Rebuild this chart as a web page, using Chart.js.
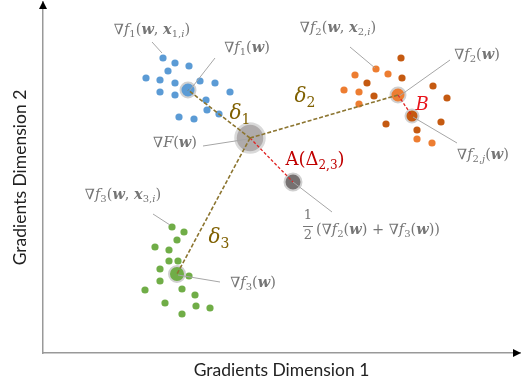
<!DOCTYPE html>
<html><head><meta charset="utf-8">
<script src="https://cdn.jsdelivr.net/npm/chart.js@4.4.1/dist/chart.umd.min.js"></script>
<style>html,body{margin:0;padding:0;background:#fff}</style>
</head><body>
<canvas id="c" width="522" height="386"></canvas>
<script>
// ---- data (arbitrary gradient units) ----
const blueSamples = [[120,295],[132,290],[146,287],[125,282],[103,275],[117,273],[132,270],[157,272],[172,270],[117,261],[132,258],[187,261],[163,253],[164,243],[176,239],[136,236],[151,234]];
const blueMean = [[145,263]];
const orangeSamples = [[333,284],[345,279],[312,278],[301,263],[316,261],[316,249],[374,214],[389,210]];
const orangeMean = [[355,258]];
const darkOrangeSamples = [[358,295],[359,275],[324,270],[331,257],[390,267],[404,255],[343,229],[398,231],[374,223]];
const darkOrangeClient = [[369,237]];
const greenSamples = [[129,126],[141,121],[134,113],[112,106],[126,103],[126,92],[135,92],[117,84],[117,72],[146,77],[102,63],[139,64],[152,58],[122,50],[153,47],[167,45],[139,39]];
const greenMean = [[134,79]];
const globalMean = [[207,215]];
const pairMean = [[250,171]];

const deltaLines = [[[207,215],[145,263]],[[207,215],[355,258]],[[207,215],[134,79]]];
const redLines = [[[207,215],[250,171]],[[355,258],[369,237]]];
const leaderLines = [
  [[109,311],[119,300]],[[172,295],[147,263]],[[307,306],[332,285]],
  [[407,293],[355,256]],[[414,210],[370,236]],[[160,207],[205,214]],
  [[289,141],[250,171]],[[110,139],[127,128]],[[177,71],[135,78]]
];

const labelTexts = ["∇/f/_1_(*w*, *x*_1,_~i~)","∇/f/_1_(*w*)","∇/f/_2_(*w*, *x*_2,_~i~)","∇/f/_2_(*w*)","∇/f/_2,_~j~(*w*)","∇/F/(*w*)","(∇/f/_2_(*w*) + ∇/f/_3_(*w*))","∇/f/_3_(*w*, *x*_3,_~i~)","∇/f/_3_(*w*)"];
const labelAnchors = [[109,323],[204,305],[295,325],[434,298],[440,198],[132,210],[273,123],[80,158],[210,70]];
const greekTexts = ["/δ/_1_","/δ/_2_","/δ/_3_"];
const greekAnchors = [[197,239],[262,256],[176,115]];
const redTexts = ["A(Δ_2,3_)","/B/"];
const redAnchors = [[272,193],[379,248]];
const fracAnchor = [265,128];
const xTitle = "Gradients Dimension 1";
const yTitle = "Gradients Dimension 2";

// ---- helpers ----
const P = a => a.map(([x,y]) => ({x,y}));
function ptSet(data, color, r, border, bw, order){
  return {type:'scatter', data:P(data), backgroundColor:color, borderColor:border||color, borderWidth:bw||0,
          pointRadius:r, pointHoverRadius:r, order:order===undefined?2:order};
}
function lineSet(seg, color, width, dash){
  return {type:'line', data:P(seg), showLine:true, borderColor:color, borderWidth:width, borderDash:dash||[],
          pointRadius:0, fill:false, order:0};
}
const FAM = '"DejaVu Serif"';
function segFont(s,size){
  const sub = Math.round(size*0.68);
  if(s==='r') return `${size}px ${FAM}`;
  if(s==='i') return `italic ${size}px ${FAM}`;
  if(s==='b') return `italic bold ${size}px ${FAM}`;
  if(s==='s') return `${sub}px ${FAM}`;
  return `italic ${sub}px ${FAM}`;
}
function parse(str){
  const out=[]; const re=/(\*[^*]+\*|\/[^\/]+\/|_[^_]+_|~[^~]+~|[^*\/_~]+)/g; let m;
  while((m=re.exec(str))){ const t=m[0]; const c=t[0];
    if(c==='*') out.push([t.slice(1,-1),'b']);
    else if(c==='/') out.push([t.slice(1,-1),'i']);
    else if(c==='_') out.push([t.slice(1,-1),'s']);
    else if(c==='~') out.push([t.slice(1,-1),'si']);
    else out.push([t,'r']); }
  return out;
}
function drawMath(ctx,str,x,y,size,color,align){
  const items=parse(str).map(([t,s])=>{ctx.font=segFont(s,size);return {t,s,w:ctx.measureText(t).width};});
  const W=items.reduce((a,b)=>a+b.w,0);
  let cx = align==='left'?x:(align==='right'?x-W:x-W/2);
  ctx.fillStyle=color; ctx.textAlign='left'; ctx.textBaseline='middle';
  for(const it of items){ ctx.font=segFont(it.s,size);
    const dy=(it.s==='s'||it.s==='si')?size*0.32:0; ctx.fillText(it.t,cx,y+dy); cx+=it.w; }
}

const annot = {
  id:'annot',
  afterDatasetsDraw(chart){
    const {ctx, scales:{x,y}} = chart; ctx.save();
    const gray='#767676';
    labelTexts.forEach((t,i)=>{ const [ax,ay]=labelAnchors[i];
      drawMath(ctx,t,x.getPixelForValue(ax),y.getPixelForValue(ay),14.5,gray,i===6?'left':'center'); });
    greekTexts.forEach((t,i)=>{ const [ax,ay]=greekAnchors[i];
      drawMath(ctx,t,x.getPixelForValue(ax),y.getPixelForValue(ay),20,'#7F6000','center'); });
    drawMath(ctx,redTexts[0],x.getPixelForValue(redAnchors[0][0]),y.getPixelForValue(redAnchors[0][1]),18,'#C00000','center');
    drawMath(ctx,redTexts[1],x.getPixelForValue(redAnchors[1][0]),y.getPixelForValue(redAnchors[1][1]),18,'#E8141B','center');
    // fraction 1/2
    const fx=x.getPixelForValue(fracAnchor[0]), fy=y.getPixelForValue(fracAnchor[1]);
    ctx.font=`13px ${FAM}`; ctx.fillStyle=gray; ctx.textAlign='center'; ctx.textBaseline='middle';
    ctx.fillText('1',fx,fy-9); ctx.fillText('2',fx,fy+11);
    ctx.strokeStyle=gray; ctx.lineWidth=1; ctx.beginPath(); ctx.moveTo(fx-5,fy+1.5); ctx.lineTo(fx+5,fy+1.5); ctx.stroke();
    // axis arrows
    const a=chart.chartArea; ctx.fillStyle='#000';
    ctx.beginPath(); ctx.moveTo(a.left,a.top-1); ctx.lineTo(a.left-4,a.top+7); ctx.lineTo(a.left+4,a.top+7); ctx.closePath(); ctx.fill();
    ctx.beginPath(); ctx.moveTo(a.right+1,a.bottom); ctx.lineTo(a.right-7,a.bottom-4); ctx.lineTo(a.right-7,a.bottom+4); ctx.closePath(); ctx.fill();
    ctx.restore();
  }
};

const datasets = [];
deltaLines.forEach(s=>datasets.push(lineSet(s,'#8C7530',1.6,[4,2])));
redLines.forEach(s=>datasets.push(lineSet(s,'#E02424',1.3,[3,2])));
leaderLines.forEach(s=>datasets.push(lineSet(s,'#A6A6A6',1,[])));
datasets.push(ptSet(blueSamples,'#5B9BD5',3.6));
datasets.push(ptSet(orangeSamples,'#ED7D31',3.6));
datasets.push(ptSet(darkOrangeSamples,'#C55A11',3.6));
datasets.push(ptSet(greenSamples,'#70AD47',3.6));
datasets.push(ptSet(blueMean,'#5B9BD5',7.5,'#D0D0D0',2,1));
datasets.push(ptSet(orangeMean,'#ED7D31',7.5,'#D0D0D0',2,1));
datasets.push(ptSet(darkOrangeClient,'#C55A11',6.5,'#D0D0D0',2,1));
datasets.push(ptSet(greenMean,'#70AD47',8,'#D0D0D0',2,1));
datasets.push(ptSet(globalMean,'#AFABAB',14.5,'#D9D9D9',2.5,1));
datasets.push(ptSet(pairMean,'#767171',8.5,'#D0D0D0',2,1));

new Chart(document.getElementById('c'),{
  type:'scatter',
  data:{datasets},
  plugins:[annot],
  options:{
    responsive:false, animation:false,
    layout:{autoPadding:false,padding:{top:2,right:2,left:0,bottom:0}},
    plugins:{legend:{display:false},tooltip:{enabled:false}},
    scales:{
      x:{type:'linear',min:0,max:477,ticks:{display:false},grid:{display:false,drawTicks:false},
         border:{display:true,color:'#999999',width:1.5},
         title:{display:true,text:xTitle,color:'#222',font:{family:'Lato',size:17.5},padding:{top:6.5,bottom:5.5}}},
      y:{type:'linear',min:0,max:351,ticks:{display:false},grid:{display:false,drawTicks:false},
         border:{display:true,color:'#999999',width:1.5},
         title:{display:true,text:yTitle,color:'#222',font:{family:'Lato',size:17.5},padding:{top:9.5,bottom:12.5}}}
    }
  }
});
</script>
</body></html>
